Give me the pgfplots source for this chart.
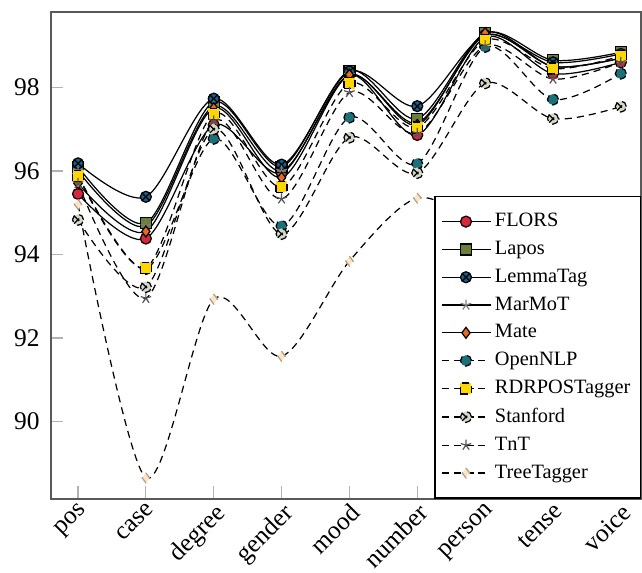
\documentclass[border=0pt]{standalone}
\usepackage{fontspec}
\setmainfont{Liberation Serif}
\usepackage{pgfplots}
\pgfplotsset{compat=1.18}
\definecolor{cFlors}{HTML}{D7263D}
\definecolor{cLapos}{HTML}{6B7F3A}
\definecolor{cLemma}{HTML}{1B5E8A}
\definecolor{cMate}{HTML}{E86A1E}
\definecolor{cOpen}{HTML}{1B7079}
\definecolor{cRdr}{HTML}{FFD700}
\definecolor{cStan}{HTML}{D5D8C8}
\definecolor{cTree}{HTML}{FCE4C4}
\definecolor{cEdge}{HTML}{555555}
\tikzset{mydash/.style={dash pattern=on 3.5pt off 2.5pt}}
\begin{document}
\begin{tikzpicture}
\begin{axis}[
  scale only axis,
  width=290pt, height=239pt,
  xmin=-0.4, xmax=8.3,
  ymin=88.15, ymax=99.8,
  xtick={0,...,8},
  xticklabels={pos,case,degree,gender,mood,number,person,tense,voice},
  x tick label style={rotate=45, anchor=north east, font=\fontsize{12.5}{14}\selectfont, inner sep=1pt},
  ytick={90,92,94,96,98},
  y tick label style={font=\fontsize{12.5}{14}\selectfont, xshift=-2pt},
  /pgf/number format/assume math mode=true,
  axis line style={gray!70!black, line width=0.8pt},
  tick style={gray!60, line width=0.6pt},
  major tick length=6pt,
  tick pos=left,
  extra description/.code={\path (rel axis cs:0,1) ++(0,6pt); \path (rel axis cs:0,0) ++(-25pt,0);},
  legend style={at={(1,0)}, anchor=south east, font=\fontsize{10}{12}\selectfont, draw=black, line width=0.6pt, row sep=1.6pt, inner xsep=3pt, inner ysep=6.3pt},
  legend cell align=left,
  legend image code/.code={\draw[mark repeat=2,mark phase=2] plot coordinates {(0cm,0cm) (0.42cm,0cm) (0.84cm,0cm)};},
  every axis plot/.append style={smooth, black, line width=0.6pt, mark size=2.7pt, mark options={draw=cEdge, solid, line width=0.4pt}},
]
\addplot[mark=*, mark options={fill=cFlors}] coordinates {(0,95.45)(1,94.38)(2,97.1)(3,95.95)(4,98.3)(5,96.86)(6,99.2)(7,98.33)(8,98.6)};
\addlegendentry{FLORS}
\addplot[mark=square*, mark options={fill=cLapos}] coordinates {(0,96.1)(1,94.75)(2,97.65)(3,96.1)(4,98.4)(5,97.25)(6,99.3)(7,98.65)(8,98.84)};
\addlegendentry{Lapos}
\addplot[mark=otimes*, mark options={fill=cLemma}] coordinates {(0,96.18)(1,95.38)(2,97.73)(3,96.15)(4,98.38)(5,97.55)(6,99.25)(7,98.6)(8,98.8)};
\addlegendentry{LemmaTag}
\addplot[mark=star, mark options={draw=gray}] coordinates {(0,96.0)(1,94.68)(2,97.55)(3,96.0)(4,98.3)(5,97.15)(6,99.25)(7,98.5)(8,98.7)};
\addlegendentry{MarMoT}
\addplot[mark=diamond*, mark options={fill=cMate}] coordinates {(0,95.7)(1,94.55)(2,97.5)(3,95.84)(4,98.3)(5,97.1)(6,99.3)(7,98.5)(8,98.7)};
\addlegendentry{Mate}
\addplot[mydash, mark=*, mark options={fill=cOpen}] coordinates {(0,95.9)(1,93.65)(2,96.77)(3,94.68)(4,97.28)(5,96.17)(6,98.97)(7,97.71)(8,98.33)};
\addlegendentry{OpenNLP}
\addplot[mydash, mark=square*, mark options={fill=cRdr}] coordinates {(0,95.88)(1,93.68)(2,97.37)(3,95.62)(4,98.1)(5,97.04)(6,99.13)(7,98.45)(8,98.75)};
\addlegendentry{RDRPOSTagger}
\addplot[mydash, mark=otimes*, mark options={fill=cStan}] coordinates {(0,94.83)(1,93.22)(2,97.0)(3,94.49)(4,96.8)(5,95.95)(6,98.1)(7,97.25)(8,97.54)};
\addlegendentry{Stanford}
\addplot[mydash, mark=star, mark options={draw=cEdge}] coordinates {(0,95.7)(1,92.95)(2,97.2)(3,95.33)(4,97.88)(5,96.9)(6,99.0)(7,98.2)(8,98.6)};
\addlegendentry{TnT}
\addplot[mydash, mark=diamond*, mark options={fill=cTree, draw=cTree!70!black, scale=0.9}] coordinates {(0,95.2)(1,88.65)(2,92.93)(3,91.56)(4,93.84)(5,95.35)(6,94.7)(7,94.5)(8,94.9)};
\addlegendentry{TreeTagger}
\end{axis}
\end{tikzpicture}
\end{document}
